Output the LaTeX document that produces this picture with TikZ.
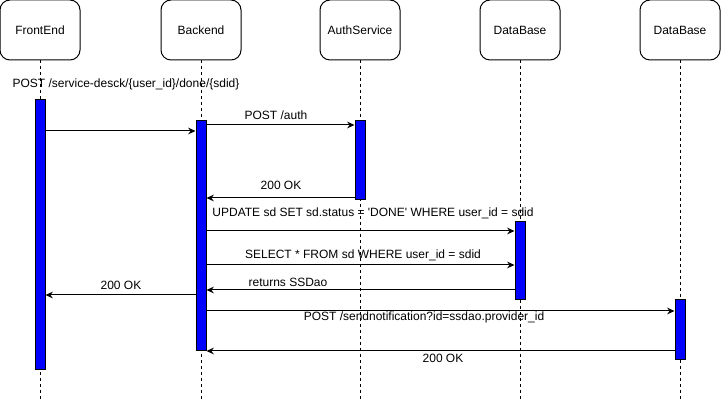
\documentclass[tikz,border=0pt]{standalone}
\usepackage{fontspec}
\setmainfont{Liberation Sans}
\usetikzlibrary{arrows.meta}
\definecolor{barblue}{RGB}{0,0,255}
\tikzset{
  actor/.style={draw, line width=0.75pt, rounded corners=7.5pt, minimum width=60pt, minimum height=45pt, inner sep=0pt},
  lifeline/.style={dash pattern=on 2.25pt off 2.25pt, line width=0.75pt},
  bar/.style={draw, fill=barblue, line width=0.75pt, minimum width=7.5pt, inner sep=0pt},
  msg/.style={-{Stealth[length=5.5pt,width=5pt]}, line width=0.75pt},
  lbl/.style={inner sep=0pt}
}
\begin{document}
\begin{tikzpicture}[x=0.75pt,y=-0.75pt,font=\fontsize{9}{11}\selectfont]
%% the page is exactly as large as the picture
\useasboundingbox (0,0) rectangle (721,402);
%% participants
\node[actor] (fe) at (40,30) {FrontEnd};
\node[actor] (be) at (201,30) {Backend};
\node[actor] (au) at (360,30) {AuthService};
\node[actor] (db) at (520,30) {DataBase};
\node[actor] (dbb) at (680,30) {DataBase};
%% lifelines (drawn before the bars so the bars sit on top)
\coordinate (feend) at (40,402);
\coordinate (beend) at (201,402);
\coordinate (auend) at (360,402);
\coordinate (dbend) at (520,402);
\coordinate (dbbend) at (680,402);
\draw[lifeline] (fe) -- (feend);
\draw[lifeline] (be) -- (beend);
\draw[lifeline] (au) -- (auend);
\draw[lifeline] (db) -- (dbend);
\draw[lifeline] (dbb) -- (dbbend);
%% activation bars
\node[bar, minimum height=202.5pt] (fea) at (40,235) {};
\node[bar, minimum height=172.5pt] (bea) at (201,236) {};
\node[bar, minimum height=59.25pt] (aua) at (360,160.5) {};
\node[bar, minimum height=58.5pt] (dba) at (520,260.5) {};
\node[bar, minimum height=45pt] (dbba) at (680,330) {};
%% messages
\draw[msg] (fea.east |- 0,131) -- (bea.west |- 0,131);
\draw[msg] (bea.east |- 0,125) -- (aua.west |- 0,125);
\draw[msg] (aua.west |- 0,198) -- (bea.east |- 0,198);
\draw[msg] (bea.east |- 0,231) -- (dba.west |- 0,231);
\draw[msg] (bea.east |- 0,265) -- (dba.west |- 0,265);
\draw[msg] (dba.west |- 0,290) -- (bea.east |- 0,290);
\draw[msg] (bea.west |- 0,295) -- (fea.east |- 0,295);
\draw[msg] (bea.east |- 0,311) -- (dbba.west |- 0,311);
\draw[msg] (dbba.west |- 0,351) -- (bea.east |- 0,351);
%% message texts
\node[lbl] (t1) at (126,84) {POST /service-desck/\{user\_id\}/done/\{sdid\}};
\node[lbl] (t2) at (276,115) {POST /auth};
\node[lbl] (t3) at (281,185) {200 OK};
\node[lbl] (t4) at (373,213) {UPDATE sd SET sd.status = \textquotesingle DONE\textquotesingle{} WHERE user\_id = sdid};
\node[lbl] (t5) at (363,255) {SELECT * FROM sd WHERE user\_id = sdid};
\node[lbl] (t6) at (288,282) {returns SSDao};
\node[lbl] (t7) at (121,285) {200 OK};
\node[lbl] (t8) at (424,317) {POST /sendnotification?id=ssdao.provider\_id};
\node[lbl] (t9) at (443,358) {200 OK};
\end{tikzpicture}
\end{document}
